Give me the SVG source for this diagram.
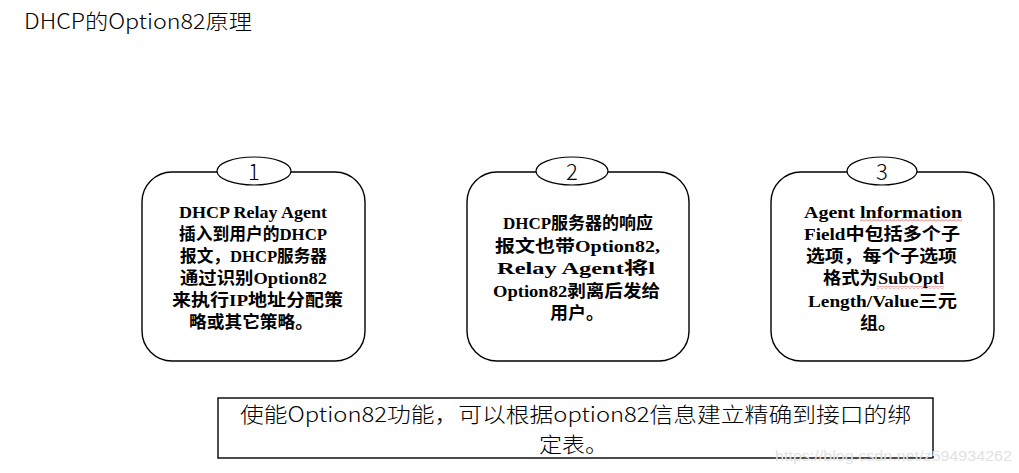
<svg xmlns="http://www.w3.org/2000/svg" width="1019" height="473" viewBox="0 0 1019 473">
<style>
.box{fill:#fff;stroke:#000;stroke-width:1.4}
.oval{fill:#fff;stroke:#000;stroke-width:1.2}
.num{font-family:"Noto Sans CJK SC","Liberation Sans",sans-serif;font-size:22px;font-weight:300;fill:#000;text-anchor:middle}
.t{font-family:"Liberation Serif","Noto Sans CJK SC",serif;font-size:17px;font-weight:bold;fill:#000}
.title{font-family:"Noto Sans CJK SC","Liberation Sans",sans-serif;font-size:21px;font-weight:300;fill:#000}
.bt{font-family:"Noto Sans CJK SC","Liberation Sans",sans-serif;font-size:21px;font-weight:300;fill:#000}
.wm{font-family:"Liberation Sans",sans-serif;font-size:14px;fill:#e2e2e2}
</style>
<defs>
<pattern id="sq" width="4" height="3" patternUnits="userSpaceOnUse">
<path d="M0,2.5 L2,0.5 L4,2.5" fill="none" stroke="#e04040" stroke-width="0.8"/>
</pattern>
</defs>
<text class="title" x="24" y="29" textLength="228" lengthAdjust="spacingAndGlyphs">DHCP的Option82原理</text>

<g id="node1">
<rect class="box" x="142" y="172" width="223" height="189" rx="30" ry="30"/>
<ellipse class="oval" cx="254" cy="171" rx="37" ry="14"/>
<text class="num" x="254" y="180">1</text>
<text class="t" x="179" y="218" textLength="148" lengthAdjust="spacingAndGlyphs">DHCP Relay Agent</text>
<text class="t" x="179" y="240" textLength="148" lengthAdjust="spacingAndGlyphs">插入到用户的DHCP</text>
<text class="t" x="180" y="262" textLength="147" lengthAdjust="spacingAndGlyphs">报文，DHCP服务器</text>
<text class="t" x="180" y="284" textLength="147" lengthAdjust="spacingAndGlyphs">通过识别Option82</text>
<text class="t" x="172" y="306" textLength="171" lengthAdjust="spacingAndGlyphs">来执行IP地址分配策</text>
<text class="t" x="189" y="328" textLength="124" lengthAdjust="spacingAndGlyphs">略或其它策略。</text>
</g>

<g id="node2">
<rect class="box" x="467" y="172" width="222" height="189" rx="30" ry="30"/>
<ellipse class="oval" cx="572" cy="171" rx="36" ry="14"/>
<text class="num" x="572" y="180">2</text>
<text class="t" x="503" y="229" textLength="150" lengthAdjust="spacingAndGlyphs">DHCP服务器的响应</text>
<text class="t" x="495" y="252" textLength="165" lengthAdjust="spacingAndGlyphs">报文也带Option82,</text>
<text class="t" x="497" y="274" textLength="158" lengthAdjust="spacingAndGlyphs">Relay Agent将l</text>
<text class="t" x="493" y="297" textLength="167" lengthAdjust="spacingAndGlyphs">Option82剥离后发给</text>
<text class="t" x="550" y="319" textLength="54" lengthAdjust="spacingAndGlyphs">用户。</text>
</g>

<g id="node3">
<rect class="box" x="771" y="172" width="223" height="189" rx="30" ry="30"/>
<ellipse class="oval" cx="882" cy="171" rx="35" ry="14"/>
<text class="num" x="882" y="180">3</text>
<text class="t" x="804" y="218" textLength="158" lengthAdjust="spacingAndGlyphs">Agent lnformation</text>
<text class="t" x="804" y="240" textLength="156" lengthAdjust="spacingAndGlyphs">Field中包括多个子</text>
<text class="t" x="806" y="262" textLength="151" lengthAdjust="spacingAndGlyphs">选项，每个子选项</text>
<text class="t" x="823" y="284" textLength="121" lengthAdjust="spacingAndGlyphs">格式为SubOptl</text>
<text class="t" x="808" y="307" textLength="149" lengthAdjust="spacingAndGlyphs">Length/Value三元</text>
<text class="t" x="860" y="329" textLength="36" lengthAdjust="spacingAndGlyphs">组。</text>
<rect x="860" y="219" width="102" height="3" fill="url(#sq)"/>
<rect x="877" y="286" width="67" height="3" fill="url(#sq)"/>
</g>

<g id="node4">
<rect class="box" x="218" y="398" width="715" height="60"/>
<text class="bt"><tspan x="240" y="422" textLength="671" lengthAdjust="spacingAndGlyphs">使能Option82功能，可以根据option82信息建立精确到接口的绑</tspan><tspan x="539" y="452" textLength="69" lengthAdjust="spacingAndGlyphs">定表。</tspan></text>
</g>

<g id="connectors"></g>

<text class="wm" x="775" y="461" textLength="237" lengthAdjust="spacingAndGlyphs">https://blog.csdn.net/z594934262</text>
</svg>
